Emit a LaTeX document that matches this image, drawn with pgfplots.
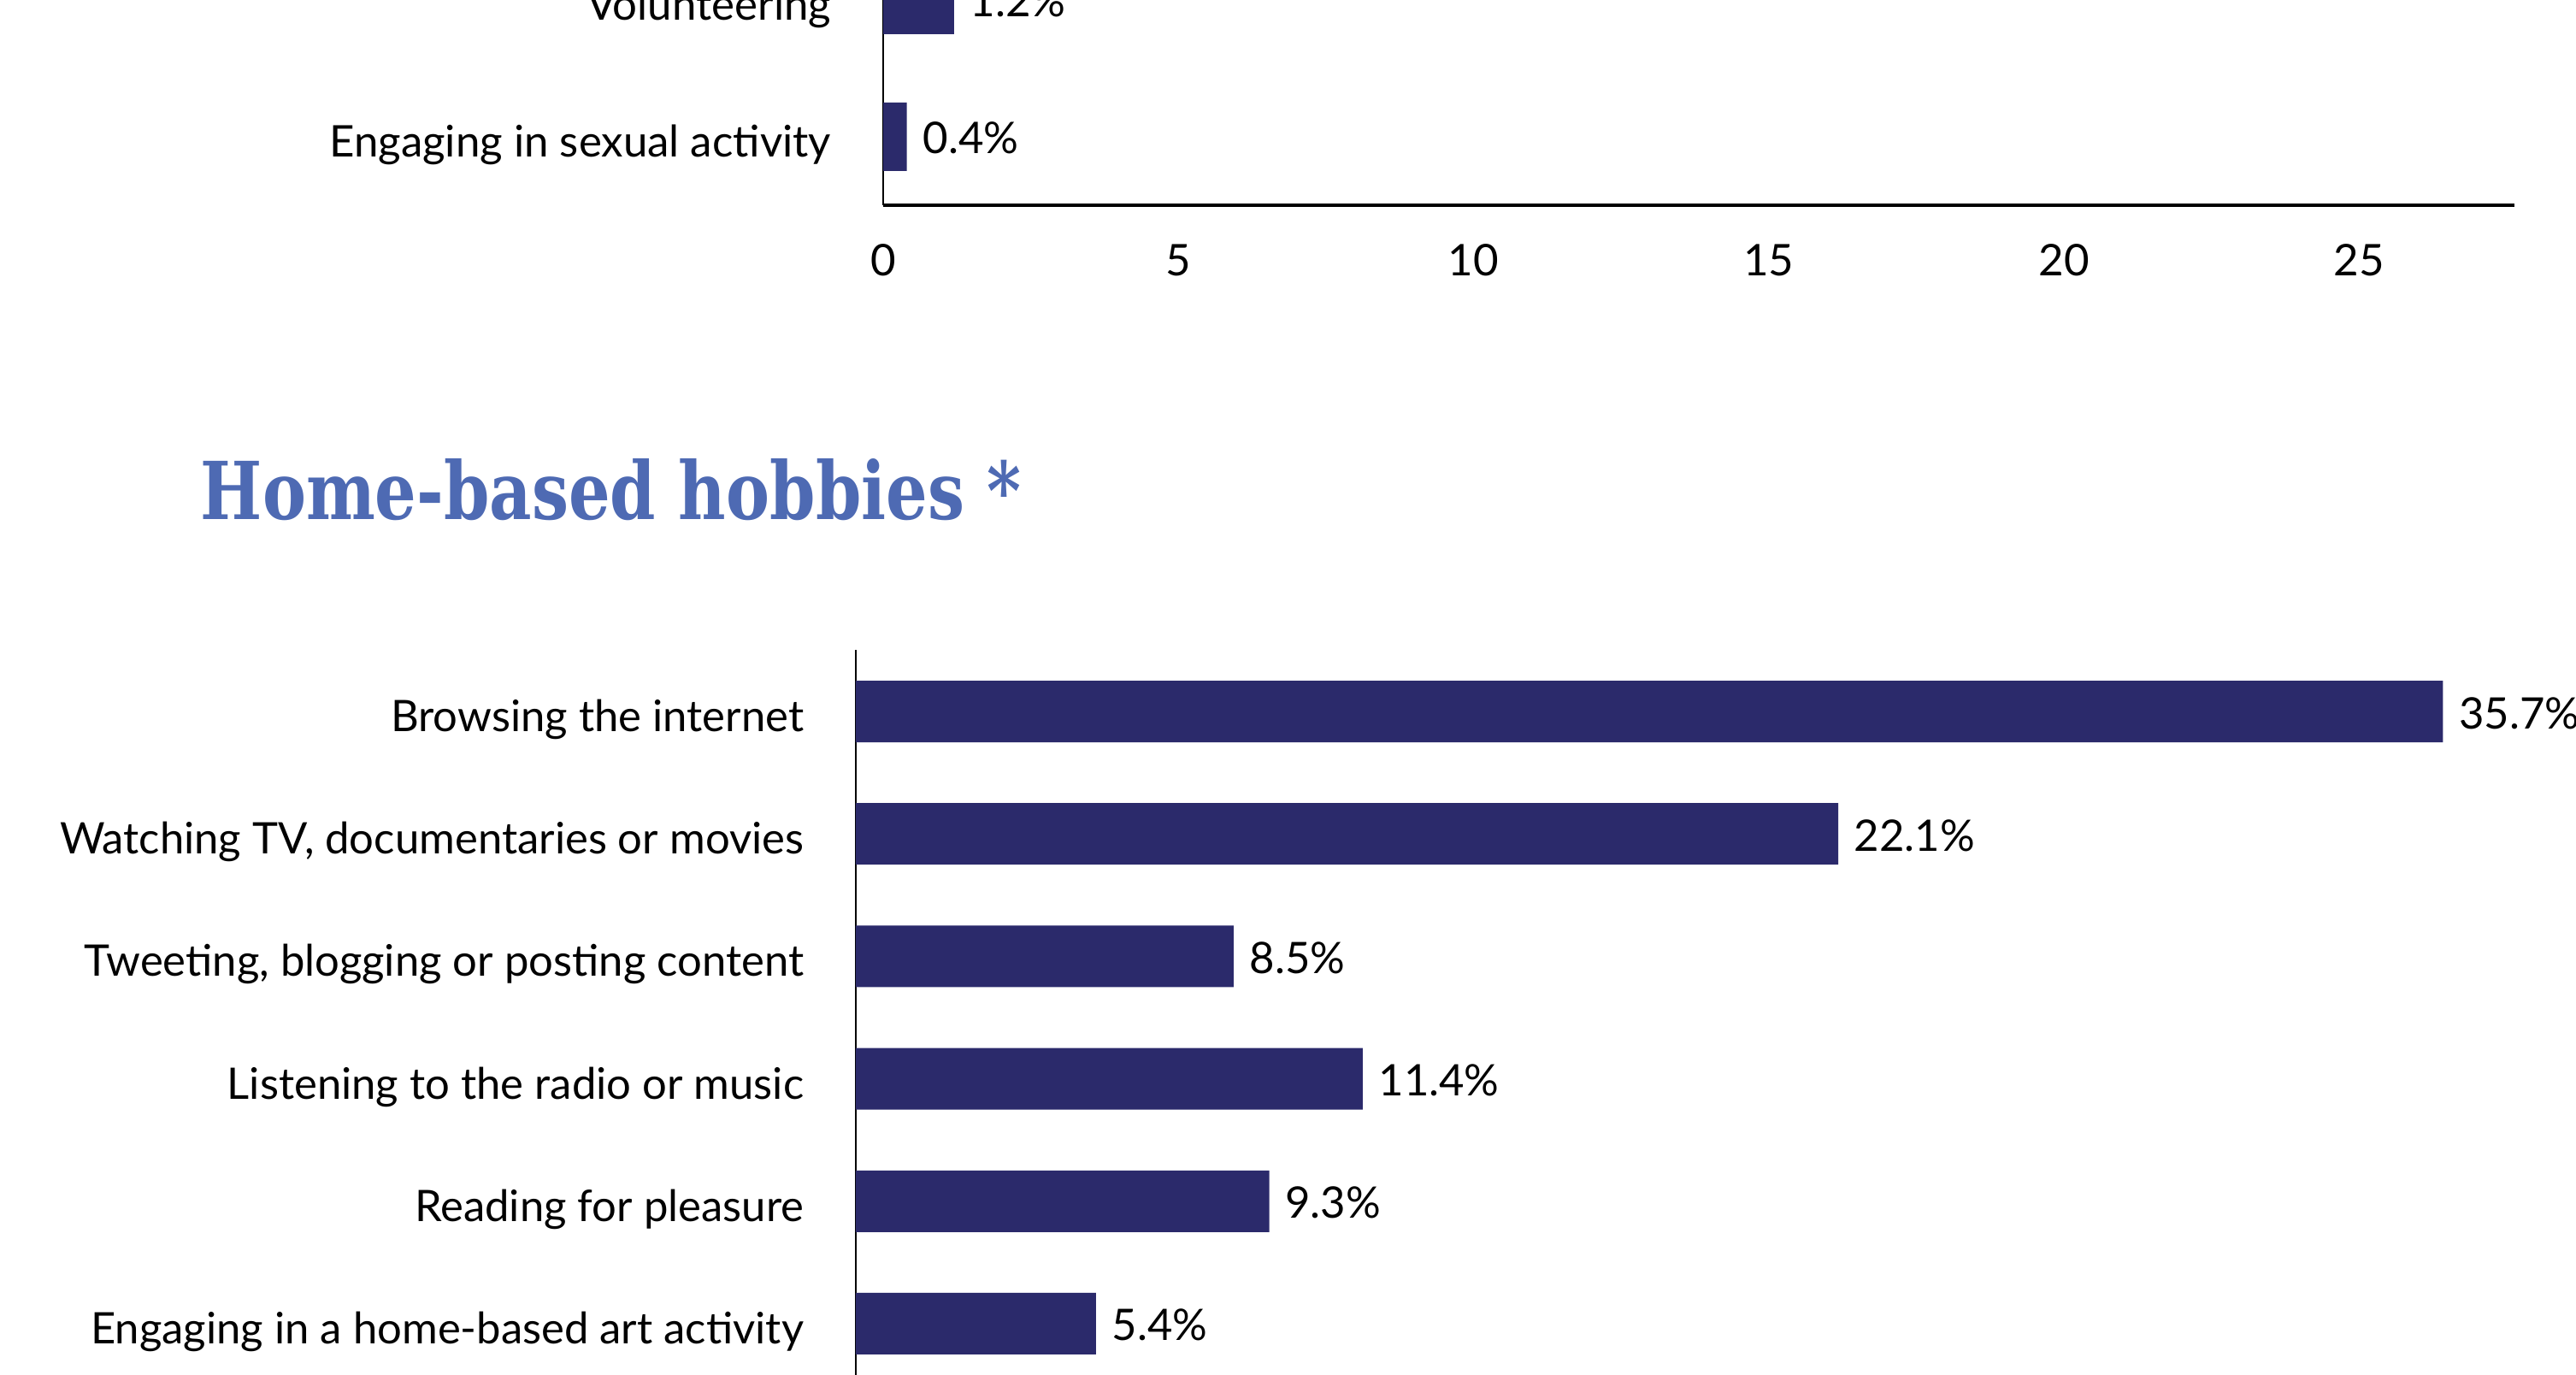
\documentclass[border=0pt]{standalone}
\usepackage{fontspec}
\setmainfont{Lato}
\newfontfamily\titlefont{DejaVu Serif}
\usepackage{graphicx}
\usepackage{pgfplots}
\pgfplotsset{compat=1.18}

\definecolor{barblue}{RGB}{43,42,107}
\definecolor{titleblue}{RGB}{78,106,179}

\pgfplotsset{
  hobbybar/.style={
    scale only axis,
    xbar,
    xmin=0,
    axis x line=bottom,
    axis y line=left,
    axis line style={-},
    major tick length=0pt,
    /pgf/number format/assume math mode=true,
    point meta=x,
    nodes near coords={\pgfmathprintnumber[fixed,fixed zerofill,precision=1]{\pgfplotspointmeta}\%},
    every node near coord/.append style={anchor=base west, inner sep=0pt, xshift=4.5pt, yshift=-5pt, text=black},
    yticklabel style={anchor=base east, inner sep=0pt, xshift=-15pt, yshift=-5.9pt},
    xticklabel style={anchor=north, inner sep=0pt, yshift=-11.25pt},
    x axis line style={line width=1pt},
    y axis line style={line width=0.7pt},
  },
  labelsize/.style={
    tick label style={font=\fontsize{#1}{15}\selectfont},
    every node near coord/.append style={font=\fontsize{#1}{15}\selectfont},
  },
}

\begin{document}
\begin{tikzpicture}
\useasboundingbox (0,0) rectangle (753.25pt,402pt);
\clip (0,0) rectangle (753.25pt,402pt);

% top panel (only its last two bars are in view)
\begin{axis}[hobbybar, labelsize=12.75,
  at={(258.25pt,342pt)}, anchor=south west,
  width=477pt, height=140pt,
  xmax=27.63, ymin=-0.5, ymax=3,
  bar width=20pt,
  xtick={0,5,10,15,20,25},
  ytick={0,1},
  yticklabels={Engaging in sexual activity, Volunteering},
]
\addplot[fill=barblue, draw=none] coordinates {
  (0.4,0)
  (1.2,1)
};
\end{axis}

\node[anchor=base west, inner sep=0pt, text=titleblue] at (58.5pt,250pt)
  {\resizebox{240pt}{17.75pt}{\titlefont\bfseries Home-based hobbies *}};

% bottom panel
\begin{axis}[hobbybar, labelsize=12.7,
  at={(250.25pt,211.9pt)}, anchor=north west,
  width=520pt, height=304.3pt,
  xmax=40, ymin=-0.5, ymax=8,
  y dir=reverse,
  bar width=18pt,
  xtick={0,5,10,15,20,25,30,35,40},
  ytick={0,1,2,3,4,5},
  yticklabels={Browsing the internet, {Watching TV, documentaries or movies}, {Tweeting, blogging or posting content}, Listening to the radio or music, Reading for pleasure, Engaging in a home-based art activity},
]
\addplot[fill=barblue, draw=none] coordinates {
  (35.7,0)
  (22.1,1)
  (8.5,2)
  (11.4,3)
  (9.3,4)
  (5.4,5)
};
\end{axis}
\end{tikzpicture}
\end{document}
